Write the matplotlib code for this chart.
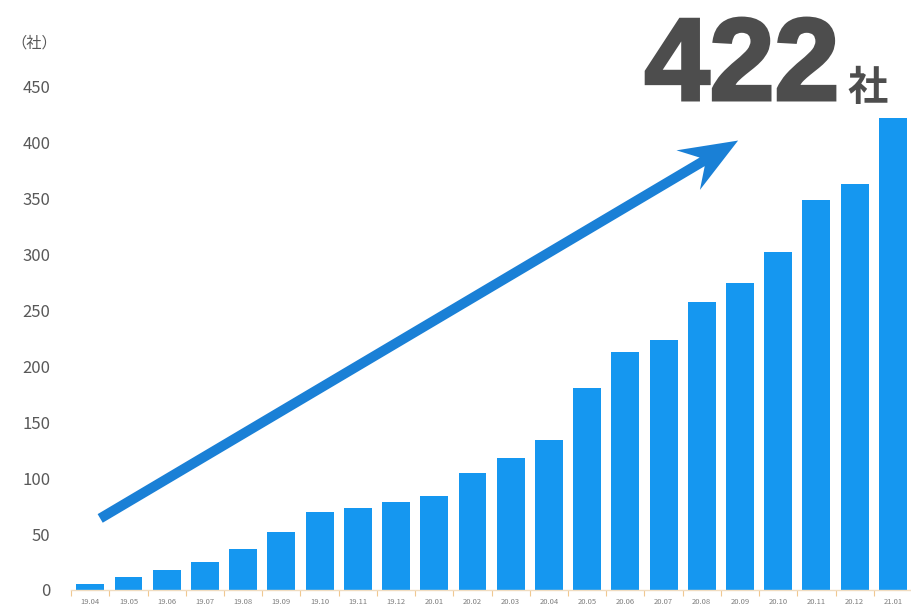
import matplotlib.pyplot as plt
import matplotlib.patheffects as pe
from matplotlib.patches import FancyArrow
import numpy as np

# --- データ ---
months = ["19.04", "19.05", "19.06", "19.07", "19.08", "19.09", "19.10", "19.11",
          "19.12", "20.01", "20.02", "20.03", "20.04", "20.05", "20.06", "20.07",
          "20.08", "20.09", "20.10", "20.11", "20.12", "21.01"]
companies = [5, 12, 18, 25, 37, 52, 70, 73, 79, 84, 105, 118, 134, 181,
             213, 224, 258, 275, 302, 349, 363, 422]
yticks = [0, 50, 100, 150, 200, 250, 300, 350, 400, 450]

plt.rcParams['font.family'] = ['Noto Sans CJK JP', 'DejaVu Sans']

fig = plt.figure(figsize=(9.12, 6.12), dpi=100)
ax = fig.add_axes([0.078, 0.036, 0.922, 0.822])

x = np.arange(len(months))
ax.bar(x, companies, width=0.73, color='#1597f0', zorder=2)

ax.set_xlim(-0.5, len(months) - 0.5)
ax.set_ylim(0, 450)
ax.set_yticks(yticks)
ax.set_xticks(x)
ax.set_xticklabels(months, fontsize=5.5, color='#7f7f7f')
ax.tick_params(axis='x', length=0, pad=6)
ax.set_xticks(np.arange(-0.5, len(months), 1), minor=True)
ax.tick_params(axis='x', which='minor', length=4, color='#f0c890', width=0.8)
ax.tick_params(axis='y', length=0, labelsize=12, labelcolor='#595959', pad=15)

for s in ['top', 'right', 'left']:
    ax.spines[s].set_visible(False)
ax.spines['bottom'].set_color('#f0dcc0')
ax.spines['bottom'].set_linewidth(1)

# 矢印 (データ座標 -> インチに変換して形を保つ)
p0 = ax.transData.transform((0.26, 64)) / fig.dpi
p1 = ax.transData.transform((16.95, 402)) / fig.dpi
arrow = FancyArrow(p0[0], p0[1], p1[0] - p0[0], p1[1] - p0[1],
                   width=0.1, head_width=0.46, head_length=0.58, overhang=0.28,
                   length_includes_head=True, color='#1a80d6', lw=0,
                   transform=fig.dpi_scale_trans, zorder=3)
fig.add_artist(arrow)

# テキスト
fig.text(0.013, 0.93, '（社）', fontsize=11, color='#595959', ha='left', va='center')
fig.text(0.92, 0.837, '422', fontsize=84, fontweight='bold', color='#4d4d4d',
         ha='right', va='baseline', family=['Liberation Sans'],
         path_effects=[pe.withStroke(linewidth=2.5, foreground='#4d4d4d',
                                     joinstyle='miter')])
fig.text(0.929, 0.837, '社', fontsize=29, fontweight='bold', color='#4d4d4d',
         ha='left', va='baseline')

fig.savefig('out.png', dpi=100)
